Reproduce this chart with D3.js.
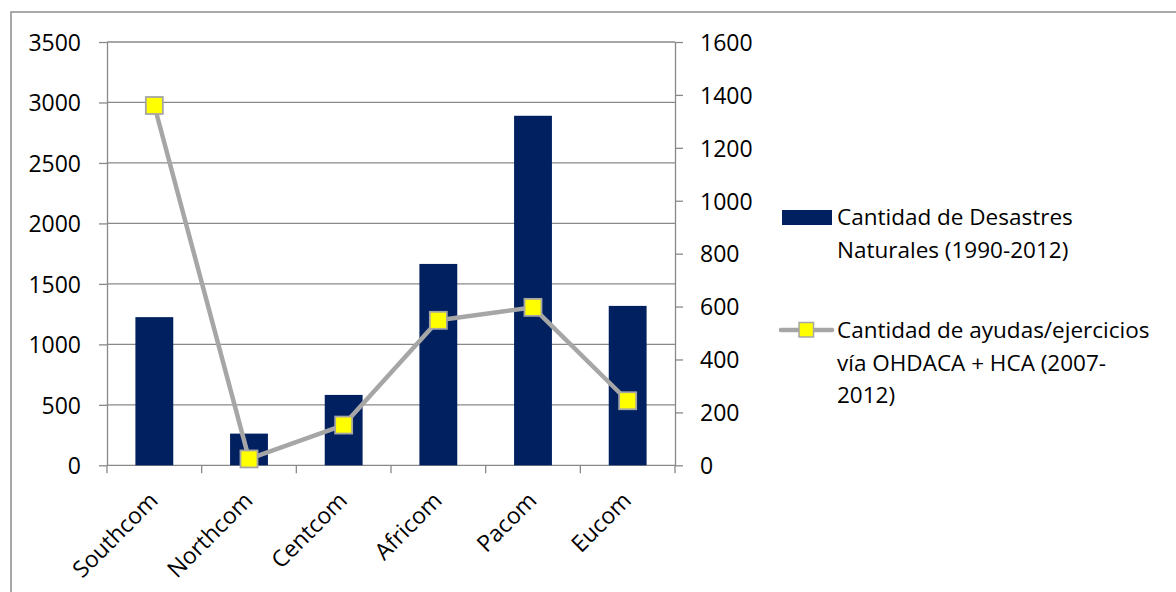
<!DOCTYPE html>
<html>
<head>
<meta charset="utf-8">
<script src="https://cdn.jsdelivr.net/npm/d3@7"></script>
<style>
  body { margin: 0; background: #fff; }
  svg { display: block; font-family: "Open Sans", sans-serif; }
  .axis path, .axis line { stroke: #898989; stroke-width: 1.3; }
  .axis text { fill: #000; font-size: 23px; font-family: "Open Sans", sans-serif; }
</style>
</head>
<body>
<svg width="1176" height="592"></svg>
<script>
// data
var commands = ["Southcom", "Northcom", "Centcom", "Africom", "Pacom", "Eucom"];
var desastres = [1225, 262, 582, 1665, 2890, 1318];
var ayudas = [1360, 24, 152, 548, 597, 244];
var leftTicks = [0, 500, 1000, 1500, 2000, 2500, 3000, 3500];
var rightTicks = [0, 200, 400, 600, 800, 1000, 1200, 1400, 1600];
var legendBar = ["Cantidad de Desastres", "Naturales (1990-2012)"];
var legendLine = ["Cantidad de ayudas/ejercicios", "vía OHDACA + HCA (2007-", "2012)"];

var svg = d3.select("svg");

var dims = {left: 107, right: 675, top: 42, bottom: 465.3};

// chart border (only left and top show in the frame)
svg.append("rect")
  .attr("x", 11).attr("y", 12)
  .attr("width", 1200).attr("height", 700)
  .attr("fill", "none")
  .attr("stroke", "#8c8c8c")
  .attr("stroke-width", 1.5);

var x = d3.scaleBand()
  .domain(commands)
  .range([dims.left, dims.right])
  .paddingInner(0)
  .paddingOuter(0);

var y = d3.scaleLinear().domain([0, 3500]).range([dims.bottom, dims.top]);
var y2 = d3.scaleLinear().domain([0, 1600]).range([dims.bottom, dims.top]);

// gridlines
svg.append("g")
  .selectAll("line")
  .data(leftTicks.slice(1))
  .enter()
  .append("line")
  .attr("x1", dims.left).attr("x2", dims.right)
  .attr("y1", function(d) { return y(d); })
  .attr("y2", function(d) { return y(d); })
  .attr("stroke", "#898989")
  .attr("stroke-width", 1.3);

// left axis
var gl = svg.append("g")
  .attr("class", "axis")
  .attr("transform", "translate(" + dims.left + ",0)")
  .call(d3.axisLeft(y).tickValues(leftTicks).tickFormat(d3.format("d"))
    .tickSize(8).tickSizeOuter(0).tickPadding(18));
gl.selectAll("text").attr("dy", "0.36em");

// right axis
var gr = svg.append("g")
  .attr("class", "axis")
  .attr("transform", "translate(" + dims.right + ",0)")
  .call(d3.axisRight(y2).tickValues(rightTicks).tickFormat(d3.format("d"))
    .tickSize(8).tickSizeOuter(0).tickPadding(17));
gr.selectAll("text").attr("dy", "0.36em");

// bottom axis: ticks at category boundaries
var bounds = commands.map(function(c) { return x(c); }).concat([dims.right]);
svg.append("line")
  .attr("x1", dims.left).attr("x2", dims.right)
  .attr("y1", dims.bottom).attr("y2", dims.bottom)
  .attr("stroke", "#898989").attr("stroke-width", 1.3);
svg.append("g")
  .selectAll("line")
  .data(bounds)
  .enter()
  .append("line")
  .attr("x1", function(d) { return d; })
  .attr("x2", function(d) { return d; })
  .attr("y1", dims.bottom).attr("y2", dims.bottom + 8)
  .attr("stroke", "#898989").attr("stroke-width", 1.3);

svg.append("g")
  .selectAll("text")
  .data(commands)
  .enter()
  .append("text")
  .attr("transform", function(d) {
    return "translate(" + (x(d) + x.bandwidth() / 2 + 5) + ",502) rotate(-45)";
  })
  .attr("text-anchor", "end")
  .attr("font-size", "23px")
  .attr("fill", "#000")
  .text(function(d) { return d; });

// bars
var barW = x.bandwidth() / 2.5;
svg.append("g")
  .selectAll("rect")
  .data(desastres)
  .enter()
  .append("rect")
  .attr("x", function(d, i) { return x(commands[i]) + (x.bandwidth() - barW) / 2; })
  .attr("y", function(d) { return y(d); })
  .attr("width", barW)
  .attr("height", function(d) { return dims.bottom - y(d); })
  .attr("fill", "#002060");

// line
var line = d3.line()
  .x(function(d, i) { return x(commands[i]) + x.bandwidth() / 2; })
  .y(function(d) { return y2(d); });

svg.append("path")
  .datum(ayudas)
  .attr("d", line)
  .attr("fill", "none")
  .attr("stroke", "#a6a6a6")
  .attr("stroke-width", 4.5)
  .attr("stroke-linejoin", "round");

var ms = 17;
svg.append("g")
  .selectAll("rect")
  .data(ayudas)
  .enter()
  .append("rect")
  .attr("x", function(d, i) { return x(commands[i]) + x.bandwidth() / 2 - ms / 2; })
  .attr("y", function(d) { return y2(d) - ms / 2; })
  .attr("width", ms).attr("height", ms)
  .attr("fill", "#ffff00")
  .attr("stroke", "#a6a6a6")
  .attr("stroke-width", 1.8);

// legend
var lg = svg.append("g").attr("font-size", "22.5px").attr("fill", "#000");

lg.append("rect")
  .attr("x", 782).attr("y", 210)
  .attr("width", 50).attr("height", 15)
  .attr("fill", "#002060");
lg.append("text")
  .selectAll("tspan")
  .data(legendBar)
  .enter()
  .append("tspan")
  .attr("x", 837)
  .attr("y", function(d, i) { return 224.5 + i * 33; })
  .text(function(d) { return d; });

lg.append("line")
  .attr("x1", 781).attr("x2", 832)
  .attr("y1", 330).attr("y2", 330)
  .attr("stroke", "#a6a6a6").attr("stroke-width", 4.5)
  .attr("stroke-linecap", "round");
lg.append("rect")
  .attr("x", 799).attr("y", 322.5)
  .attr("width", 14.5).attr("height", 14.5)
  .attr("fill", "#ffff00")
  .attr("stroke", "#a6a6a6").attr("stroke-width", 1.5);
lg.append("text")
  .selectAll("tspan")
  .data(legendLine)
  .enter()
  .append("tspan")
  .attr("x", 837)
  .attr("y", function(d, i) { return 338 + i * 32.7; })
  .text(function(d) { return d; });
</script>
</body>
</html>
